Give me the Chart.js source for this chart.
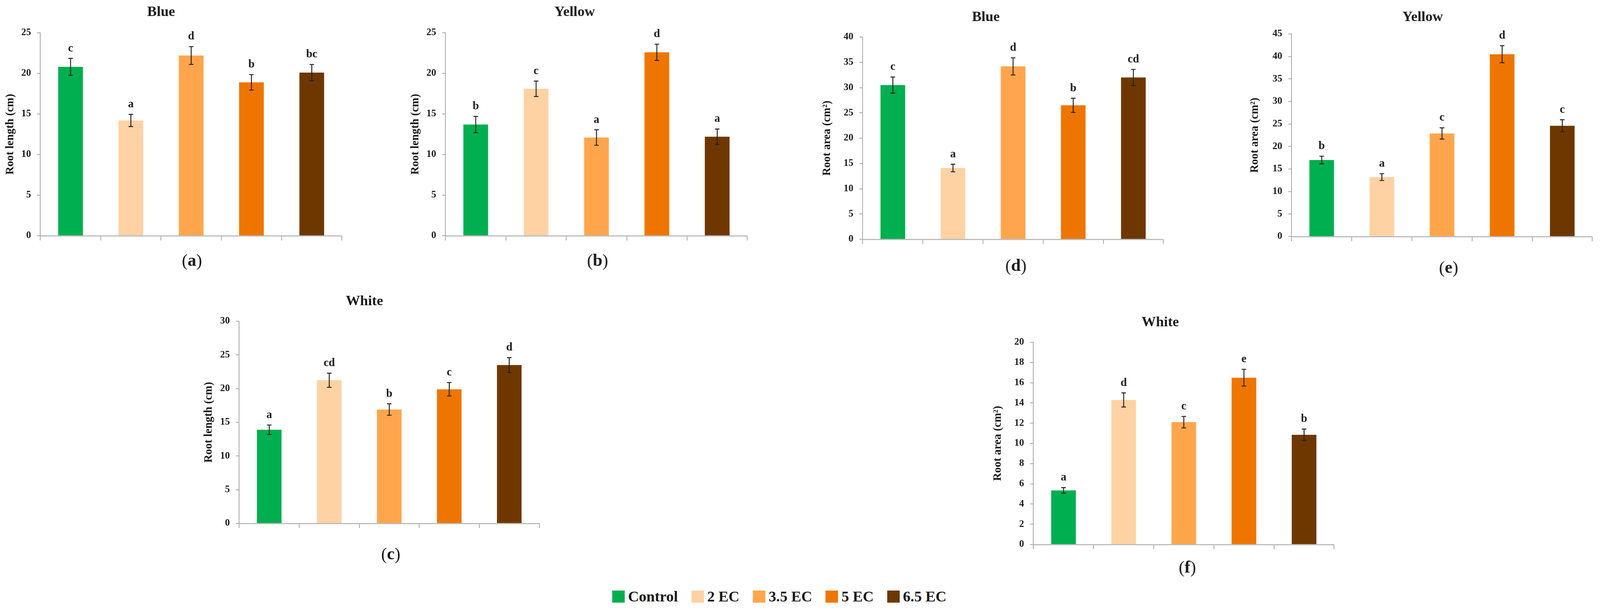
<!DOCTYPE html>
<html>
<head>
<meta charset="utf-8">
<script src="https://cdn.jsdelivr.net/npm/chart.js@4/dist/chart.umd.min.js"></script>
<style>
    html, body { margin: 0; padding: 0; background: #fff; }
    body { position: relative; width: 100vw; height: 100vh; overflow: hidden; font-family: "Liberation Serif", "DejaVu Serif", serif; }
    .panel { position: absolute; }
    #legend { position: absolute; transform: translate(-50%, -50%); display: flex; align-items: center; white-space: nowrap; }
    #legend .item { display: flex; align-items: center; }
    #legend .label { font-weight: bold; font-family: "Liberation Serif", serif; color: #1a1a1a; }
</style>
</head>
<body>
<div id="legend"></div>

<script>
// Treatments and colours shared by every panel
const treatments = ['Control', '2 EC', '3.5 EC', '5 EC', '6.5 EC'];
const treatmentColors = ['#00AF50', '#FFD2A4', '#FFA64D', '#EE7600', '#6F3700'];

// (a) Blue - root length (cm)
const blueLength = [20.8, 14.2, 22.2, 18.9, 20.1];
const blueLengthErr = [1.05, 0.75, 1.1, 0.95, 1.0];
const blueLengthLetters = ['c', 'a', 'd', 'b', 'bc'];

// (b) Yellow - root length (cm)
const yellowLength = [13.7, 18.1, 12.1, 22.6, 12.2];
const yellowLengthErr = [1.0, 0.95, 0.95, 1.0, 0.95];
const yellowLengthLetters = ['b', 'c', 'a', 'd', 'a'];

// (c) White - root length (cm)
const whiteLength = [13.9, 21.25, 16.9, 19.9, 23.5];
const whiteLengthErr = [0.7, 1.05, 0.85, 1.0, 1.1];
const whiteLengthLetters = ['a', 'cd', 'b', 'c', 'd'];

// (d) Blue - root area (cm2)
const blueArea = [30.5, 14.1, 34.2, 26.5, 32.0];
const blueAreaErr = [1.6, 0.75, 1.7, 1.4, 1.6];
const blueAreaLetters = ['c', 'a', 'd', 'b', 'cd'];

// (e) Yellow - root area (cm2)
const yellowArea = [17.0, 13.2, 22.9, 40.5, 24.6];
const yellowAreaErr = [0.85, 0.75, 1.25, 1.9, 1.35];
const yellowAreaLetters = ['b', 'a', 'c', 'd', 'c'];

// (f) White - root area (cm2)
const whiteArea = [5.35, 14.3, 12.1, 16.5, 10.85];
const whiteAreaErr = [0.28, 0.7, 0.57, 0.83, 0.57];
const whiteAreaLetters = ['a', 'd', 'c', 'e', 'b'];

const lengthLabel = 'Root length (cm)';
const areaLabel = 'Root area (cm\u00B2)';

// layout is designed on a 4256 x 1568 sheet and scaled to the real window
const SX = (window.innerWidth || 4256) / 4256;
const SY = (window.innerHeight || 1568) / 1568;
const SF = Math.min(SX, SY);
const X = (v) => v * SX;
const Y = (v) => v * SY;
const F = (v) => Math.round(v * SF * 10) / 10;

const AXIS_GRAY = '#A6A6A6';
const TEXT = '#1a1a1a';
const FONT = '"Liberation Serif", "DejaVu Serif", serif';
const Y_AXIS_W = 120;
const PAD_TOP = 100, PAD_RIGHT = 16, PAD_BOTTOM = 100, X_AXIS_H = 20;

// page layout of each panel (sheet positions, not data)
const panels = [
    { id: 'a', title: 'Blue',   yLabel: lengthLabel, max: 25, step: 5, values: blueLength,   err: blueLengthErr,   letters: blueLengthLetters,
      axisX: 107,  plotRight: 909,  plotTop: 84,  zeroY: 604,  titleX: 428,  titleY: 32,  capX: 510,  capY: 670,  yTitleGap: 80 },
    { id: 'b', title: 'Yellow', yLabel: lengthLabel, max: 25, step: 5, values: yellowLength, err: yellowLengthErr, letters: yellowLengthLetters,
      axisX: 1185, plotRight: 1987, plotTop: 84,  zeroY: 604,  titleX: 1528, titleY: 32,  capX: 1589, capY: 670,  yTitleGap: 80 },
    { id: 'c', title: 'White',  yLabel: lengthLabel, max: 30, step: 5, values: whiteLength,  err: whiteLengthErr,  letters: whiteLengthLetters,
      axisX: 636,  plotRight: 1434, plotTop: 823, zeroY: 1341, titleX: 969,  titleY: 773, capX: 1039, capY: 1422, yTitleGap: 81 },
    { id: 'd', title: 'Blue',   yLabel: areaLabel,   max: 40, step: 5, values: blueArea,     err: blueAreaErr,     letters: blueAreaLetters,
      axisX: 2295, plotRight: 3094, plotTop: 95,  zeroY: 613,  titleX: 2622, titleY: 45,  capX: 2702, capY: 683,  yTitleGap: 95 },
    { id: 'e', title: 'Yellow', yLabel: areaLabel,   max: 45, step: 5, values: yellowArea,   err: yellowAreaErr,   letters: yellowAreaLetters,
      axisX: 3436, plotRight: 4235, plotTop: 87,  zeroY: 606,  titleX: 3784, titleY: 45,  capX: 3853, capY: 688,  yTitleGap: 98 },
    { id: 'f', title: 'White',  yLabel: areaLabel,   max: 20, step: 2, values: whiteArea,    err: whiteAreaErr,    letters: whiteAreaLetters,
      axisX: 2749, plotRight: 3548, plotTop: 877, zeroY: 1395, titleX: 3086, titleY: 827, capX: 3158, capY: 1456, yTitleGap: 95 }
];

// error bars, significance letters, panel title and caption
const panelDecor = {
    id: 'panelDecor',
    afterDatasetsDraw(chart, args, opts) {
        const { ctx } = chart;
        const yScale = chart.scales.y;
        const meta = chart.getDatasetMeta(0);
        const values = chart.data.datasets[0].data;
        const cap = X(6);

        ctx.save();
        ctx.strokeStyle = '#222';
        ctx.lineWidth = 2.5 * SF;
        ctx.fillStyle = TEXT;
        ctx.font = 'bold ' + F(30) + 'px ' + FONT;
        ctx.textAlign = 'center';
        ctx.textBaseline = 'alphabetic';
        meta.data.forEach((bar, i) => {
            const v = values[i];
            const e = opts.err[i];
            const yTop = yScale.getPixelForValue(v + e);
            const yBot = yScale.getPixelForValue(v - e);
            const x = bar.x;
            ctx.beginPath();
            ctx.moveTo(x, yTop); ctx.lineTo(x, yBot);
            ctx.moveTo(x - cap, yTop); ctx.lineTo(x + cap, yTop);
            ctx.moveTo(x - cap, yBot); ctx.lineTo(x + cap, yBot);
            ctx.stroke();
            ctx.fillText(opts.letters[i], x, yTop - Y(18));
        });
        ctx.restore();
    },
    afterDraw(chart, args, opts) {
        const { ctx, chartArea } = chart;
        ctx.save();
        ctx.fillStyle = TEXT;
        ctx.textBaseline = 'middle';
        ctx.textAlign = 'center';
        ctx.font = 'bold ' + F(38) + 'px ' + FONT;
        ctx.fillText(opts.title, chartArea.left + opts.titleDx, chartArea.top - opts.titleDy);

        // caption like "(a)": brackets regular, letter bold
        const cx = chartArea.left + opts.capDx;
        const cy = chartArea.bottom + opts.capDy;
        const plain = F(46) + 'px ' + FONT;
        const bold = 'bold ' + F(46) + 'px ' + FONT;
        ctx.textAlign = 'left';
        ctx.font = plain;
        const wOpen = ctx.measureText('(').width;
        const wClose = ctx.measureText(')').width;
        ctx.font = bold;
        const wLetter = ctx.measureText(opts.caption).width;
        let x = cx - (wOpen + wLetter + wClose) / 2;
        ctx.font = plain;
        ctx.fillText('(', x, cy);
        x += wOpen;
        ctx.font = bold;
        ctx.fillText(opts.caption, x, cy);
        x += wLetter;
        ctx.font = plain;
        ctx.fillText(')', x, cy);
        ctx.restore();
    }
};

function buildPanel(p) {
    const yAxisW = X(Y_AXIS_W);
    const box = document.createElement('div');
    box.className = 'panel';
    box.style.left = X(p.axisX - Y_AXIS_W) + 'px';
    box.style.top = Y(p.plotTop - PAD_TOP) + 'px';
    box.style.width = X(Y_AXIS_W + (p.plotRight - p.axisX) + PAD_RIGHT) + 'px';
    box.style.height = Y(PAD_TOP + (p.zeroY - p.plotTop) + X_AXIS_H + PAD_BOTTOM) + 'px';
    const canvas = document.createElement('canvas');
    box.appendChild(canvas);
    document.body.appendChild(box);

    const titleSize = F(30);

    return new Chart(canvas, {
        type: 'bar',
        data: {
            labels: treatments,
            datasets: [{
                data: p.values,
                backgroundColor: treatmentColors,
                borderWidth: 0,
                categoryPercentage: 1.0,
                barPercentage: 0.41
            }]
        },
        options: {
            responsive: true,
            maintainAspectRatio: false,
            animation: false,
            events: [],
            layout: {
                padding: { top: Y(PAD_TOP), right: X(PAD_RIGHT), bottom: Y(PAD_BOTTOM), left: 0 }
            },
            plugins: {
                legend: { display: false },
                tooltip: { enabled: false },
                panelDecor: {
                    err: p.err,
                    letters: p.letters,
                    title: p.title,
                    titleDx: X(p.titleX - p.axisX),
                    titleDy: Y(p.plotTop - p.titleY),
                    caption: p.id,
                    capDx: X(p.capX - p.axisX),
                    capDy: Y(p.capY - p.zeroY)
                }
            },
            scales: {
                x: {
                    offset: true,
                    grid: {
                        offset: true,
                        drawOnChartArea: false,
                        drawTicks: true,
                        tickLength: Y(12),
                        color: AXIS_GRAY,
                        lineWidth: 2
                    },
                    border: { color: '#BDBDBD', width: 3 },
                    ticks: { display: false },
                    afterFit: (scale) => { scale.height = Y(X_AXIS_H); }
                },
                y: {
                    min: 0,
                    max: p.max,
                    ticks: {
                        stepSize: p.step,
                        padding: X(16),
                        color: TEXT,
                        font: { family: FONT, size: F(26), weight: 'bold' }
                    },
                    grid: {
                        drawOnChartArea: false,
                        tickLength: X(9),
                        color: AXIS_GRAY,
                        lineWidth: 2
                    },
                    border: { color: AXIS_GRAY, width: 2 },
                    title: {
                        display: true,
                        text: p.yLabel,
                        color: TEXT,
                        font: { family: FONT, size: titleSize, weight: 'bold' },
                        padding: { top: Math.max(0, X(Y_AXIS_W - p.yTitleGap) - 0.6 * titleSize), bottom: 0 }
                    },
                    afterFit: (scale) => { scale.width = yAxisW; }
                }
            }
        },
        plugins: [panelDecor]
    });
}

function buildLegend() {
    const legend = document.getElementById('legend');
    legend.style.left = X(2073) + 'px';
    legend.style.top = Y(1528) + 'px';
    treatments.forEach((name, i) => {
        const item = document.createElement('div');
        item.className = 'item';
        if (i < treatments.length - 1) item.style.marginRight = X(36) + 'px';
        const sw = document.createElement('div');
        sw.style.width = X(33) + 'px';
        sw.style.height = Y(31) + 'px';
        sw.style.marginRight = X(9) + 'px';
        sw.style.background = treatmentColors[i];
        const lab = document.createElement('span');
        lab.className = 'label';
        lab.style.fontSize = F(40) + 'px';
        lab.textContent = name;
        item.appendChild(sw);
        item.appendChild(lab);
        legend.appendChild(item);
    });
}

buildLegend();
panels.forEach(buildPanel);
</script>
</body>
</html>
